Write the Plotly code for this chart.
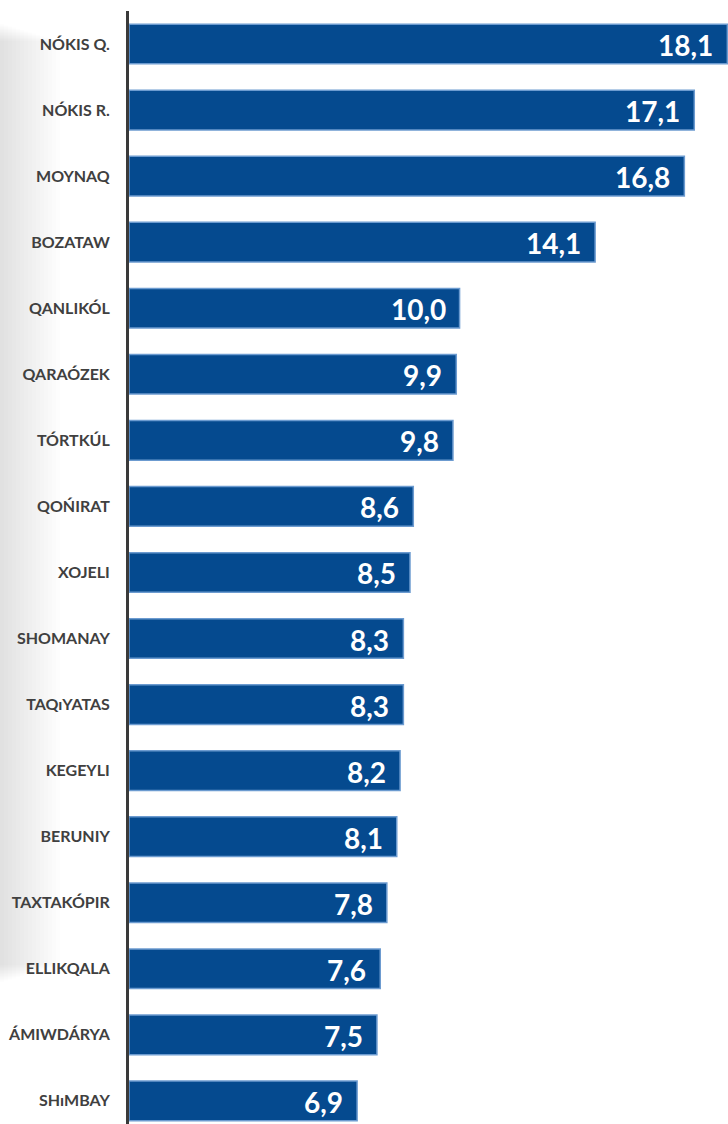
"""Horizontal bar chart of district values (Karakalpakstan), Plotly recreation."""

import plotly.graph_objects as go

districts = [
    "NÓKIS Q.", "NÓKIS R.", "MOYNAQ", "BOZATAW", "QANLIKÓL", "QARAÓZEK",
    "TÓRTKÚL", "QOŃIRAT", "XOJELI", "SHOMANAY", "TAQıYATAS", "KEGEYLI",
    "BERUNIY", "TAXTAKÓPIR", "ELLIKQALA", "ÁMIWDÁRYA", "SHıMBAY",
]
values = [18.1, 17.1, 16.8, 14.1, 10.0, 9.9, 9.8, 8.6, 8.5, 8.3, 8.3, 8.2,
          8.1, 7.8, 7.6, 7.5, 6.9]
value_labels = [f"{v:.1f}".replace(".", ",") for v in values]

BAR_COLOR = "#054a8f"
EDGE_COLOR = "#6c9bd0"
TEXT_GREY = "#404040"

W, H = 728, 1124
LEFT, TOP = 129, 11
plot_w = W - LEFT
plot_h = H - TOP

fig = go.Figure()
positions = list(range(len(districts)))
fig.add_trace(go.Bar(
    x=values,
    y=positions,
    orientation="h",
    width=0.6,
    marker=dict(color=BAR_COLOR, line=dict(color=EDGE_COLOR, width=1.5)),
    hoverinfo="skip",
    showlegend=False,
))

# value labels inside bar ends
annotations = []
for pos, v, lab in zip(positions, values, value_labels):
    annotations.append(dict(
        x=v, y=pos, xref="x", yref="y",
        text=f"<b>{lab}</b>", showarrow=False,
        xanchor="right", yanchor="middle", xshift=-12, yshift=-1,
        font=dict(family="Lato", size=28, color="white"),
    ))

# soft grey shadow along the left edge
shapes = []
n = 15
for i in range(1, n + 1):
    px = 4 * i
    trim = 2 + 1.2 * i  # wider strips are shorter -> soft top/bottom ends
    shapes.append(dict(
        type="rect", xref="paper", yref="paper", layer="below",
        x0=-LEFT / plot_w, x1=(px - LEFT) / plot_w,
        y0=(H - 985 + trim) / plot_h, y1=(plot_h - 10 - trim) / plot_h,
        fillcolor="#7a7a7a", opacity=0.016, line=dict(width=0),
    ))

fig.update_layout(
    width=W, height=H,
    margin=dict(l=LEFT, r=0, t=TOP, b=0),
    paper_bgcolor="white", plot_bgcolor="white",
    bargap=0.4,
    annotations=annotations,
    shapes=shapes,
    xaxis=dict(range=[0, 18.12], visible=False, fixedrange=True),
    yaxis=dict(
        range=[16.35, -0.5],
        tickmode="array", tickvals=positions,
        ticktext=[f"<b>{d}</b>" for d in districts],
        tickfont=dict(family="Lato", size=16, color=TEXT_GREY),
        ticks="", showgrid=False, zeroline=False,
        showline=True, linecolor="#3a3a3a", linewidth=3,
        ticklabelstandoff=13, fixedrange=True,
    ),
)

# drop the default body margin so the figure fills the window
fig.write_html(
    "out.html",
    config={"displayModeBar": False},
    post_script="document.body.style.margin='0';document.body.style.overflow='hidden';",
)
